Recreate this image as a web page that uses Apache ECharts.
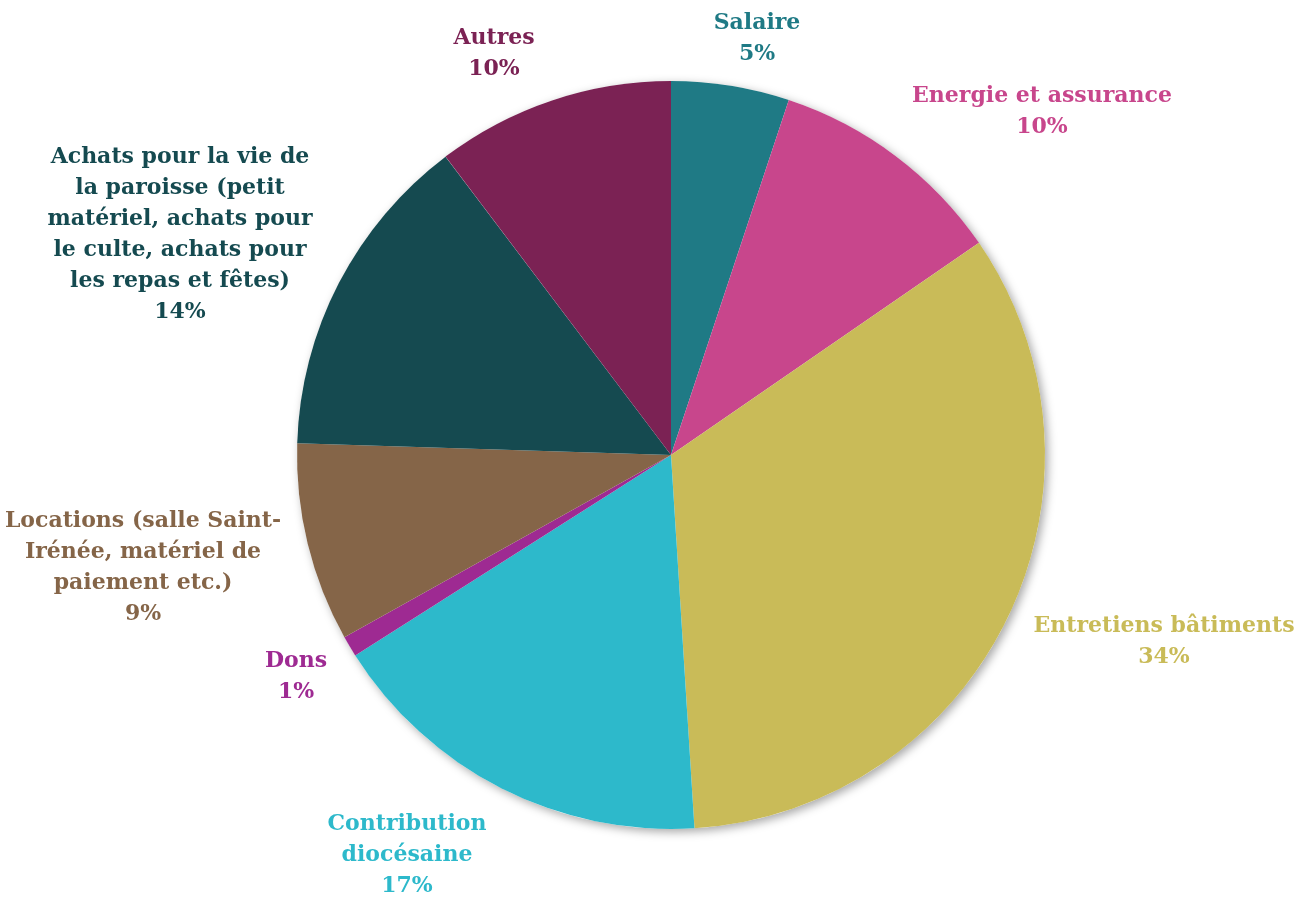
<!DOCTYPE html>
<html>
<head>
<meta charset="utf-8">
<script src="https://cdn.jsdelivr.net/npm/echarts@6/dist/echarts.min.js"></script>
<style>
  html, body { margin: 0; padding: 0; background: #fff; }
  #piechart { width: 1306px; height: 899px; }
</style>
</head>
<body>
<div id="piechart"></div>
<script>
// depenses de la paroisse, en %
var categories = [
    'Salaire',
    'Energie et assurance',
    'Entretiens bâtiments',
    'Contribution\ndiocésaine',
    'Dons',
    'Locations (salle Saint-\nIrénée, matériel de\npaiement etc.)',
    'Achats pour la vie de\nla paroisse (petit\nmatériel, achats pour\nle culte, achats pour\nles repas et fêtes)',
    'Autres'
];
var values = [5.1, 10.3, 33.6, 17.0, 0.9, 8.6, 14.2, 10.3];
var colors = ['#1f7a85', '#c8468c', '#c9bb58', '#2db9cb', '#9e2a92', '#856548', '#154a50', '#7b2254'];

// where each label sits (centre of text block)
var labelPos = [
    [757, 39], [1042, 112], [1164, 642], [407, 855],
    [296, 677], [143, 568], [180, 235], [494, 54]
];

var myChart = echarts.init(document.getElementById('piechart'));

var pieData = categories.map(function(name, i){
    return { name: name, value: values[i], itemStyle: { color: colors[i] } };
});

var option = {
    animation: false,
    series: [{
        // just for the drop shadow under the pie
        type: 'pie',
        silent: true,
        center: [671, 455],
        radius: 374,
        z: 1,
        label: { show: false },
        labelLine: { show: false },
        itemStyle: {
            color: '#ffffff',
            shadowBlur: 10,
            shadowOffsetX: 3,
            shadowOffsetY: 3,
            shadowColor: 'rgba(0,0,0,0.35)'
        },
        data: [1]
    }, {
        type: 'pie',
        center: [671, 455],
        radius: 374,
        z: 2,
        startAngle: 90,
        clockwise: true,
        avoidLabelOverlap: false,
        itemStyle: { borderWidth: 0 },
        label: {
            show: true,
            position: 'outside',
            color: 'inherit',
            fontFamily: 'DejaVu Serif',
            fontWeight: 'bold',
            fontSize: 22,
            lineHeight: 31,
            align: 'center',
            formatter: function(p){
                return p.name + '\n' + Math.round(p.percent) + '%';
            }
        },
        labelLine: { show: false },
        labelLayout: function(params){
            var pos = labelPos[params.dataIndex];
            return { x: pos[0], y: pos[1], align: 'center', verticalAlign: 'middle' };
        },
        data: pieData
    }]
};

myChart.setOption(option);
</script>
</body>
</html>
